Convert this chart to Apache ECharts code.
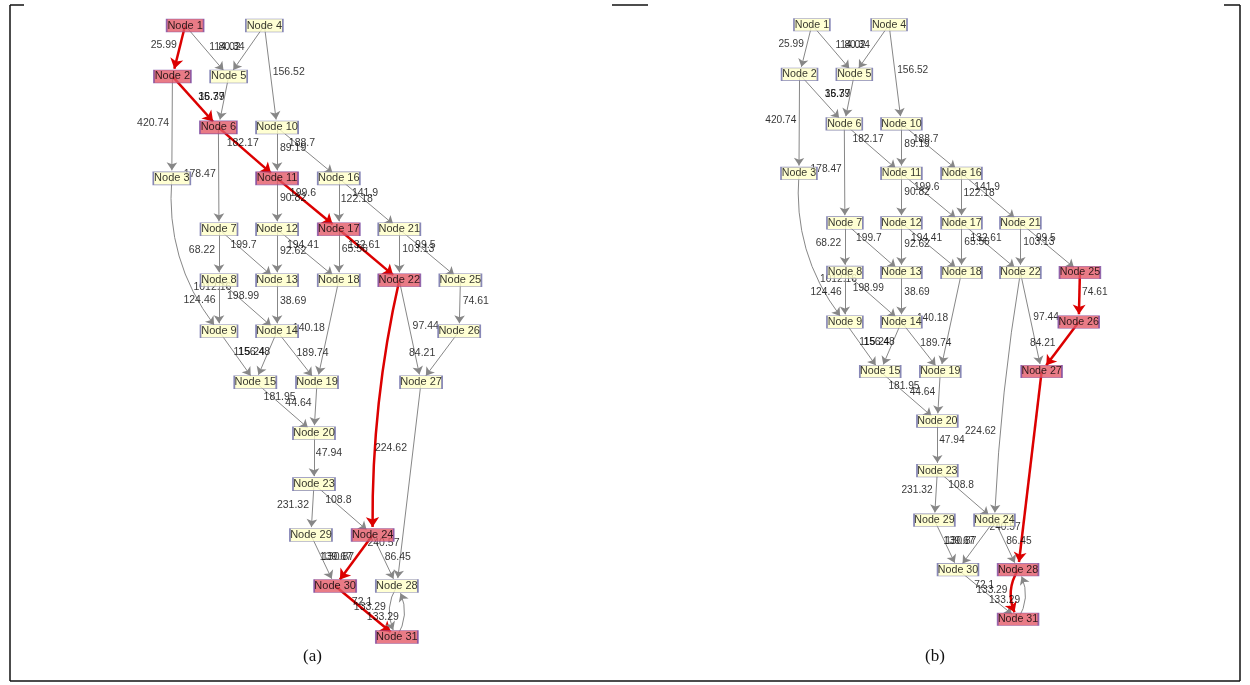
<!DOCTYPE html>
<html>
<head>
<meta charset="utf-8">
<script src="https://cdn.jsdelivr.net/npm/echarts@6/dist/echarts.min.js"></script>
<style>
  html, body { margin: 0; padding: 0; background: #ffffff; }
  #chart { width: 1250px; height: 685px; }
</style>
</head>
<body>
<div id="chart"></div>
<script>
// Layered DAG: layout column / row of nodes 1..31 (index 0 is Node 1)
const nodeCol = [0.44, 0.23, 0.22, 1.75, 1.16, 0.99, 1.0, 1.0, 1.0, 1.96,
                 1.96, 1.96, 1.96, 1.96, 1.6, 2.98, 2.98, 2.98, 2.62, 2.57,
                 3.98, 3.98, 2.57, 3.54, 4.99, 4.97, 4.34, 3.94, 2.52, 2.92, 3.94];
const nodeRow = [0, 1, 3, 0, 1, 2, 4, 5, 6, 2,
                 3, 4, 5, 6, 7, 3, 4, 5, 7, 8,
                 4, 5, 9, 10, 5, 6, 7, 11, 10, 11, 12];

// Directed edges and their weights
const edgeFrom = [1, 1, 4, 4, 2, 2, 5, 6, 6, 10, 10, 3, 7, 7, 12, 12, 11, 11, 16, 16,
                  17, 17, 21, 21, 25, 13, 8, 8, 18, 14, 9, 14, 15, 19, 20, 23, 23, 22, 22, 26,
                  27, 24, 24, 29, 30, 28, 31];
const edgeTo   = [2, 5, 5, 10, 3, 6, 6, 11, 7, 11, 16, 9, 8, 13, 13, 18, 12, 17, 17, 21,
                  18, 22, 22, 25, 26, 14, 14, 9, 19, 19, 15, 15, 20, 20, 23, 29, 24, 24, 27, 27,
                  28, 28, 30, 30, 31, 31, 28];
const edgeWeight = [25.99, 114.02, 80.34, 156.52, 420.74, 35.79, 16.37, 182.17, 178.47, 89.19,
                    188.7, 1012.16, 68.22, 199.7, 92.62, 194.41, 90.82, 199.6, 122.18, 141.9,
                    65.56, 132.61, 103.13, 99.5, 74.61, 38.69, 198.99, 124.46, 140.18, 189.74,
                    156.48, 115.24, 181.95, 44.64, 47.94, 231.32, 108.8, 224.62, 97.44, 84.21,
                    240.57, 86.45, 139.67, 130.87, 72.1, 133.29, 133.29];

// Highlighted shortest paths in the two panels
const pathA = [1, 2, 6, 11, 17, 22, 24, 30, 31];
const pathB = [25, 26, 27, 28, 31];

// Pixel placement of each weight label relative to its edge midpoint
const labelShift = [[-15, -6], [18, -4], [-15, -4], [18, -4], [-19, -4], [16, -5], [-12, -5], [-5, -10], [-19, -4], [16, -5],
                    [-6, -10], [17, 32], [-17, -4.5], [-4.5, -9.5], [16, -3.5], [-5, -9.5], [16, -6], [-5, -11], [18, -5], [-4, -11],
                    [16, -6], [-5, -10], [19, -6], [-4.5, -10], [16, -5], [16, -5], [-5, -9.5], [-19.5, -5.5], [-19, -3.5], [15.5, -3.5],
                    [17, -4.5], [-17, -4.5], [-5, -10.5], [-17, -4.5], [15, -5.5], [-19.5, -5], [-5, -10], [5, 40], [15.5, -5], [-18, -4],
                    [-25.5, 58.5], [13, -3.5], [-18, -3.5], [15, -3.5], [-4, -9.5], [-27, -4.5], [-14, 5.5]];

const YELLOW = '#ffffc8', YELLOW_BORDER = '#6a6aa8';
const RED_FILL = '#e35a68', RED_BORDER = '#7a4aa0';
const GREY_EDGE = '#878787', RED_EDGE = '#dc0000';
const FONT = 'Liberation Sans, Arial, sans-serif';

function onPath(path, a, b) {
  const i = path.indexOf(a);
  return i >= 0 && path[i + 1] === b;
}

function edgeCurve(panel, k) {
  const a = edgeFrom[k], b = edgeTo[k];
  if (a === 3 && b === 9) return -0.2;
  if (a === 22 && b === 24) return panel === 0 ? -0.06 : -0.03;
  if ((a === 28 && b === 31) || (a === 31 && b === 28)) return -0.3;
  return 0;
}

function buildPanel(panel, path, scale) {
  const nodeIdx = nodeCol.map((_, i) => i);
  const graph = {
    type: 'graph',
    coordinateSystem: 'cartesian2d',
    xAxisIndex: panel, yAxisIndex: panel,
    layout: 'none',
    silent: true,
    animation: false,
    z: 2,
    symbol: 'circle',
    symbolSize: 16 * scale,
    itemStyle: { color: 'rgba(0,0,0,0)' },
    label: { show: false },
    edgeLabel: { show: false },
    edgeSymbol: ['none', 'arrow'],
    edgeSymbolSize: [0, 8 * scale],
    lineStyle: { color: GREY_EDGE, width: 1, opacity: 1, curveness: 0 },
    emphasis: { disabled: true },
    data: nodeIdx.map(i => ({ name: 'n' + (i + 1), value: [nodeCol[i], nodeRow[i]] })),
    links: edgeFrom.map((a, k) => {
      const red = onPath(path, a, edgeTo[k]);
      return {
        source: a - 1,
        target: edgeTo[k] - 1,
        symbolSize: [0, (red ? 10 : 8) * scale],
        lineStyle: {
          color: red ? RED_EDGE : GREY_EDGE,
          width: red ? 2.5 : 1,
          curveness: edgeCurve(panel, k)
        }
      };
    })
  };

  const weights = {
    type: 'scatter',
    xAxisIndex: panel, yAxisIndex: panel,
    silent: true,
    animation: false,
    z: 3,
    symbolSize: 0,
    itemStyle: { color: 'rgba(0,0,0,0)' },
    label: {
      show: true, position: 'inside', formatter: '{b}',
      color: '#000000', fontSize: 10.5 * scale, fontFamily: FONT
    },
    data: edgeFrom.map((a, k) => {
      const b = edgeTo[k];
      let shift = labelShift[k].map(v => v * scale);
      if (panel === 1 && a === 22 && b === 24) shift = [-27, 35];
      return {
        name: String(edgeWeight[k]),
        value: [(nodeCol[a - 1] + nodeCol[b - 1]) / 2, (nodeRow[a - 1] + nodeRow[b - 1]) / 2],
        label: { offset: shift }
      };
    })
  };

  const nodes = {
    type: 'scatter',
    xAxisIndex: panel, yAxisIndex: panel,
    silent: true,
    animation: false,
    z: 4,
    symbol: 'rect',
    label: {
      show: true, position: 'inside', formatter: '{b}',
      color: '#000000', fontSize: 11 * scale, fontFamily: FONT
    },
    data: nodeIdx.map(i => {
      const id = i + 1;
      const red = path.indexOf(id) >= 0;
      return {
        name: 'Node ' + id,
        value: [nodeCol[i], nodeRow[i]],
        symbolSize: [(id < 10 ? 37 : 42) * scale, 13 * scale],
        itemStyle: {
          color: red ? RED_FILL : YELLOW,
          borderColor: red ? RED_BORDER : YELLOW_BORDER,
          borderWidth: 1
        }
      };
    })
  };
  return [graph, weights, nodes];
}

const chart = echarts.init(document.getElementById('chart'), null, { renderer: 'canvas' });

const frame = '#111111';
chart.setOption({
  backgroundColor: '#ffffff',
  animation: false,
  grid: [
    { left: 158.5, top: 0, width: 363, height: 662.5 },
    { left: 786, top: 0, width: 353.4, height: 644 }
  ],
  xAxis: [
    { gridIndex: 0, type: 'value', min: 0, max: 6, show: false },
    { gridIndex: 1, type: 'value', min: 0, max: 6, show: false }
  ],
  yAxis: [
    { gridIndex: 0, type: 'value', min: -0.5, max: 12.5, inverse: true, show: false },
    { gridIndex: 1, type: 'value', min: -0.5, max: 12.5, inverse: true, show: false }
  ],
  graphic: [
    { type: 'line', shape: { x1: 10, y1: 5, x2: 10, y2: 681 }, style: { stroke: frame, lineWidth: 1.5 } },
    { type: 'line', shape: { x1: 1240, y1: 5, x2: 1240, y2: 681 }, style: { stroke: frame, lineWidth: 1.5 } },
    { type: 'line', shape: { x1: 10, y1: 681, x2: 1240, y2: 681 }, style: { stroke: frame, lineWidth: 1.5 } },
    { type: 'line', shape: { x1: 10, y1: 5, x2: 24, y2: 5 }, style: { stroke: frame, lineWidth: 1.5 } },
    { type: 'line', shape: { x1: 612, y1: 5, x2: 648, y2: 5 }, style: { stroke: frame, lineWidth: 1.5 } },
    { type: 'line', shape: { x1: 1224, y1: 5, x2: 1240, y2: 5 }, style: { stroke: frame, lineWidth: 1.5 } },
    { type: 'text', left: 303, top: 648, style: { text: '(a)', font: '17px "Liberation Serif", serif', fill: '#111' } },
    { type: 'text', left: 925, top: 648, style: { text: '(b)', font: '17px "Liberation Serif", serif', fill: '#111' } }
  ],
  series: [].concat(buildPanel(0, pathA, 1), buildPanel(1, pathB, 0.97))
});
</script>
</body>
</html>
